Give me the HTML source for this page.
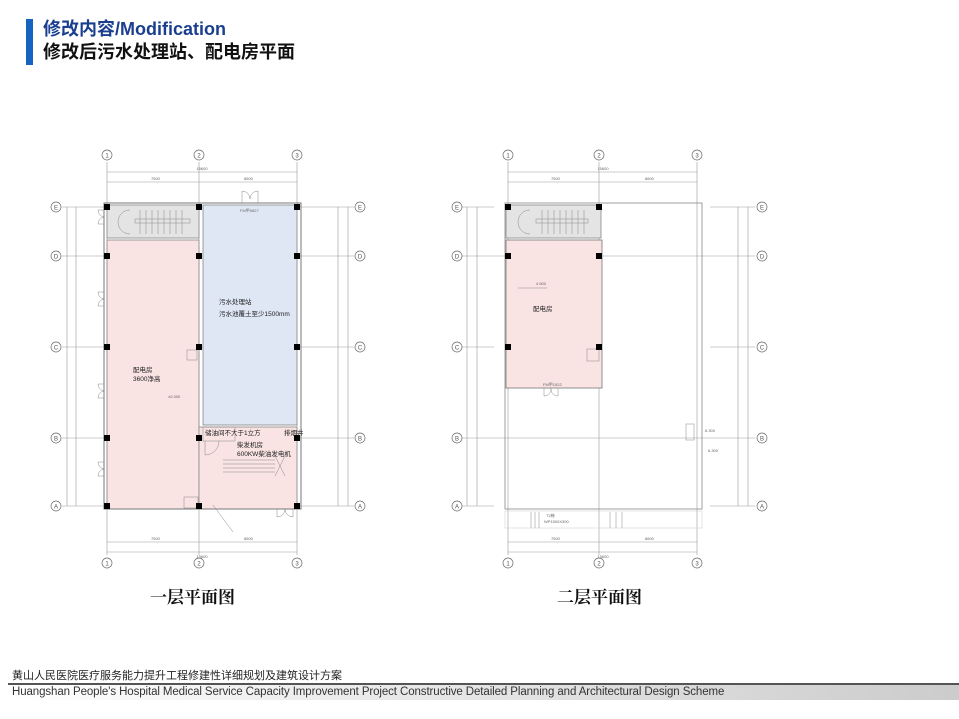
<!DOCTYPE html>
<html><head><meta charset="utf-8"><style>
body{margin:0;width:959px;height:719px;background:#fff;position:relative;overflow:hidden;font-family:"Liberation Sans","Noto Sans CJK SC",sans-serif}
.bar{position:absolute;left:26px;top:19px;width:7px;height:46px;background:#1565c0}
.t1{position:absolute;left:43px;top:18px;font-size:18px;font-weight:bold;color:#1a3f8f;line-height:22px}
.t2{position:absolute;left:43px;top:41px;font-size:18px;font-weight:bold;color:#111;line-height:22px}
.f1{position:absolute;left:12px;top:667px;font-size:11px;color:#222;font-family:"Noto Sans CJK SC",sans-serif}
.fl{position:absolute;left:8px;top:683px;width:951px;height:2px;background:#555}
.fb{position:absolute;left:8px;top:685px;width:951px;height:15px;background:linear-gradient(90deg,#fff 0%,#eee 30%,#ccc 100%)}
.f2{position:absolute;left:12px;top:686px;font-size:11.5px;color:#333;letter-spacing:-0.1px}
svg{position:absolute;left:0;top:0}
</style></head><body>
<div class="bar"></div>
<div class="t1">修改内容/Modification</div>
<div class="t2">修改后污水处理站、配电房平面</div>
<svg width="959" height="719" viewBox="0 0 959 719" font-family="Liberation Sans, Noto Sans CJK SC, sans-serif">
<defs>
<g id="bub"><circle r="5" fill="#fff" stroke="#666" stroke-width="0.7"/></g>
</defs>
<!-- ============ PLAN 1 ============ -->
<g stroke="#999" stroke-width="0.6" fill="none">
<line x1="107" y1="162" x2="107" y2="555"/><line x1="199" y1="162" x2="199" y2="555"/><line x1="297" y1="162" x2="297" y2="555"/>
<line x1="62" y1="207" x2="354" y2="207"/><line x1="62" y1="256" x2="354" y2="256"/><line x1="62" y1="347" x2="354" y2="347"/><line x1="62" y1="438" x2="354" y2="438"/><line x1="62" y1="506" x2="354" y2="506"/>
<line x1="107" y1="172" x2="297" y2="172"/><line x1="107" y1="182" x2="297" y2="182"/>
<line x1="107" y1="542" x2="297" y2="542"/><line x1="107" y1="552" x2="297" y2="552"/>
<line x1="67" y1="207" x2="67" y2="506"/><line x1="76" y1="207" x2="76" y2="506"/>
<line x1="338" y1="207" x2="338" y2="506"/><line x1="348" y1="207" x2="348" y2="506"/>
</g>
<rect x="107" y="205" width="92" height="33" fill="#e4e4e4" stroke="#888" stroke-width="0.8"/>
<rect x="107" y="240" width="92" height="269" fill="#f9e3e3" stroke="#888" stroke-width="0.8"/>
<rect x="203" y="205" width="94" height="220" fill="#dfe7f5" stroke="#888" stroke-width="0.8"/>
<rect x="199" y="427" width="98" height="82" fill="#f9e3e3" stroke="#888" stroke-width="0.8"/>
<rect x="104" y="203" width="197" height="306" fill="none" stroke="#777" stroke-width="1"/>
<g stroke="#888" stroke-width="0.5" fill="none">
<path d="M130 210 a12 12 0 0 0 0 24"/><rect x="135" y="219" width="55" height="4"/>
<line x1="140" y1="210" x2="140" y2="234"/><line x1="146" y1="210" x2="146" y2="234"/><line x1="152" y1="210" x2="152" y2="234"/><line x1="158" y1="210" x2="158" y2="234"/><line x1="164" y1="210" x2="164" y2="234"/><line x1="170" y1="210" x2="170" y2="234"/><line x1="176" y1="210" x2="176" y2="234"/><line x1="182" y1="210" x2="182" y2="234"/>
<path d="M242 203 v-12 a8 8 0 0 1 8 8 M258 203 v-12 a8 8 0 0 0 -8 8"/>
<path d="M104 210 h-6 a7 7 0 0 0 6 7 a7 7 0 0 0 -6 7 h6"/>
<path d="M104 292 h-6 a7 7 0 0 0 6 7 a7 7 0 0 0 -6 7 h6"/>
<path d="M104 384 h-6 a7 7 0 0 0 6 7 a7 7 0 0 0 -6 7 h6"/>
<path d="M104 462 h-6 a7 7 0 0 0 6 7 a7 7 0 0 0 -6 7 h6"/>
<path d="M277 509 v8 a8 8 0 0 0 8 -8 M293 509 v8 a8 8 0 0 1 -8 -8"/>
<rect x="203" y="427" width="32" height="14"/><path d="M205 441 v14 a14 14 0 0 0 14 -14"/>
<line x1="223" y1="460" x2="275" y2="460"/><line x1="223" y1="464" x2="275" y2="464"/><line x1="223" y1="468" x2="275" y2="468"/><line x1="223" y1="472" x2="275" y2="472"/>
<path d="M275 456 l10 20 M285 456 l-10 20"/>
<rect x="187" y="350" width="10" height="10"/><rect x="184" y="497" width="14" height="11"/>
<line x1="213" y1="505" x2="233" y2="532"/>
</g>
<g fill="#000">
<rect x="104" y="204" width="6" height="6"/><rect x="196" y="204" width="6" height="6"/><rect x="294" y="204" width="6" height="6"/>
<rect x="104" y="253" width="6" height="6"/><rect x="196" y="253" width="6" height="6"/><rect x="294" y="253" width="6" height="6"/>
<rect x="104" y="344" width="6" height="6"/><rect x="196" y="344" width="6" height="6"/><rect x="294" y="344" width="6" height="6"/>
<rect x="104" y="435" width="6" height="6"/><rect x="196" y="435" width="6" height="6"/><rect x="294" y="435" width="6" height="6"/>
<rect x="104" y="503" width="6" height="6"/><rect x="196" y="503" width="6" height="6"/><rect x="294" y="503" width="6" height="6"/>
</g>
<g font-size="6.5" fill="#222">
<text x="219" y="304">污水处理站</text><text x="219" y="316">污水池覆土至少1500mm</text>
<text x="133" y="372">配电房</text><text x="133" y="381">3600净高</text>
<text x="205" y="435">储油间不大于1立方</text><text x="284" y="435">排烟井</text>
<text x="237" y="447">柴发机房</text><text x="237" y="456">600KW柴油发电机</text>
</g>
<g font-size="4" fill="#666">
<text x="202" y="170" text-anchor="middle">15600</text><text x="151" y="180">7500</text><text x="244" y="180">8600</text>
<text x="151" y="540">7500</text><text x="244" y="540">8600</text><text x="202" y="558" text-anchor="middle">15600</text>
<text x="240" y="212">FM甲0827</text><text x="168" y="398">±0.300</text>
</g>
<g font-size="6" fill="#555" text-anchor="middle">
<use href="#bub" x="107" y="155"/><text x="107" y="157.5">1</text>
<use href="#bub" x="199" y="155"/><text x="199" y="157.5">2</text>
<use href="#bub" x="297" y="155"/><text x="297" y="157.5">3</text>
<use href="#bub" x="107" y="563"/><text x="107" y="565.5">1</text>
<use href="#bub" x="199" y="563"/><text x="199" y="565.5">2</text>
<use href="#bub" x="297" y="563"/><text x="297" y="565.5">3</text>
<use href="#bub" x="56" y="207"/><text x="56" y="209.5">E</text>
<use href="#bub" x="56" y="256"/><text x="56" y="258.5">D</text>
<use href="#bub" x="56" y="347"/><text x="56" y="349.5">C</text>
<use href="#bub" x="56" y="438"/><text x="56" y="440.5">B</text>
<use href="#bub" x="56" y="506"/><text x="56" y="508.5">A</text>
<use href="#bub" x="360" y="207"/><text x="360" y="209.5">E</text>
<use href="#bub" x="360" y="256"/><text x="360" y="258.5">D</text>
<use href="#bub" x="360" y="347"/><text x="360" y="349.5">C</text>
<use href="#bub" x="360" y="438"/><text x="360" y="440.5">B</text>
<use href="#bub" x="360" y="506"/><text x="360" y="508.5">A</text>
</g>
<!-- ============ PLAN 2 ============ -->
<g stroke="#999" stroke-width="0.6" fill="none">
<line x1="508" y1="162" x2="508" y2="555"/><line x1="599" y1="162" x2="599" y2="555"/><line x1="697" y1="162" x2="697" y2="555"/>
<line x1="462" y1="207" x2="494" y2="207"/><line x1="462" y1="256" x2="755" y2="256"/><line x1="462" y1="347" x2="494" y2="347"/><line x1="462" y1="438" x2="755" y2="438"/><line x1="462" y1="506" x2="494" y2="506"/>
<line x1="710" y1="207" x2="755" y2="207"/><line x1="710" y1="347" x2="755" y2="347"/><line x1="710" y1="506" x2="755" y2="506"/>
<line x1="508" y1="172" x2="697" y2="172"/><line x1="508" y1="182" x2="697" y2="182"/>
<line x1="508" y1="542" x2="697" y2="542"/><line x1="508" y1="552" x2="697" y2="552"/>
<line x1="467" y1="207" x2="467" y2="506"/><line x1="477" y1="207" x2="477" y2="506"/>
<line x1="738" y1="207" x2="738" y2="506"/><line x1="748" y1="207" x2="748" y2="506"/>
</g>
<rect x="505" y="203" width="197" height="306" fill="none" stroke="#888" stroke-width="0.8"/>
<rect x="505" y="511" width="197" height="17" fill="none" stroke="#ccc" stroke-width="0.5"/>
<rect x="506" y="205" width="95" height="33" fill="#e4e4e4" stroke="#888" stroke-width="0.8"/>
<rect x="506" y="240" width="96" height="148" fill="#f9e3e3" stroke="#777" stroke-width="0.8"/>
<g stroke="#888" stroke-width="0.5" fill="none">
<path d="M530 210 a12 12 0 0 0 0 24"/><rect x="536" y="219" width="52" height="4"/>
<line x1="542" y1="210" x2="542" y2="234"/><line x1="548" y1="210" x2="548" y2="234"/><line x1="554" y1="210" x2="554" y2="234"/><line x1="560" y1="210" x2="560" y2="234"/><line x1="566" y1="210" x2="566" y2="234"/><line x1="572" y1="210" x2="572" y2="234"/><line x1="578" y1="210" x2="578" y2="234"/><line x1="584" y1="210" x2="584" y2="234"/>
<rect x="587" y="349" width="12" height="12"/>
<path d="M544 388 v8 a7 7 0 0 0 7 -8 M558 388 v8 a7 7 0 0 1 -7 -8"/>
<rect x="686" y="424" width="8" height="16"/>
<line x1="531" y1="512" x2="531" y2="528"/><line x1="535" y1="512" x2="535" y2="528"/><line x1="539" y1="512" x2="539" y2="528"/><line x1="610" y1="512" x2="610" y2="528"/><line x1="616" y1="512" x2="616" y2="528"/><line x1="622" y1="512" x2="622" y2="528"/>
<line x1="518" y1="288" x2="547" y2="288"/>
</g>
<g fill="#000">
<rect x="505" y="204" width="6" height="6"/><rect x="596" y="204" width="6" height="6"/>
<rect x="505" y="253" width="6" height="6"/><rect x="596" y="253" width="6" height="6"/>
<rect x="505" y="344" width="6" height="6"/><rect x="596" y="344" width="6" height="6"/>
</g>
<g font-size="6.5" fill="#222"><text x="533" y="311">配电房</text></g>
<g font-size="4" fill="#666">
<text x="603" y="170" text-anchor="middle">15600</text><text x="551" y="180">7500</text><text x="645" y="180">8600</text>
<text x="551" y="540">7500</text><text x="645" y="540">8600</text><text x="603" y="558" text-anchor="middle">15600</text>
<text x="536" y="285">4.500</text><text x="543" y="386">FM甲1522</text><text x="705" y="432">6.300</text><text x="708" y="452">6.300</text>
<text x="546" y="517">T2梯</text><text x="544" y="523">WP1500X300</text>
</g>
<g font-size="6" fill="#555" text-anchor="middle">
<use href="#bub" x="508" y="155"/><text x="508" y="157.5">1</text>
<use href="#bub" x="599" y="155"/><text x="599" y="157.5">2</text>
<use href="#bub" x="697" y="155"/><text x="697" y="157.5">3</text>
<use href="#bub" x="508" y="563"/><text x="508" y="565.5">1</text>
<use href="#bub" x="599" y="563"/><text x="599" y="565.5">2</text>
<use href="#bub" x="697" y="563"/><text x="697" y="565.5">3</text>
<use href="#bub" x="457" y="207"/><text x="457" y="209.5">E</text>
<use href="#bub" x="457" y="256"/><text x="457" y="258.5">D</text>
<use href="#bub" x="457" y="347"/><text x="457" y="349.5">C</text>
<use href="#bub" x="457" y="438"/><text x="457" y="440.5">B</text>
<use href="#bub" x="457" y="506"/><text x="457" y="508.5">A</text>
<use href="#bub" x="762" y="207"/><text x="762" y="209.5">E</text>
<use href="#bub" x="762" y="256"/><text x="762" y="258.5">D</text>
<use href="#bub" x="762" y="347"/><text x="762" y="349.5">C</text>
<use href="#bub" x="762" y="438"/><text x="762" y="440.5">B</text>
<use href="#bub" x="762" y="506"/><text x="762" y="508.5">A</text>
</g>
<g font-size="17" font-weight="bold" fill="#111" font-family="Noto Serif CJK SC, serif">
<text x="150" y="603">一层平面图</text><text x="557" y="603">二层平面图</text>
</g>
</svg>
<div class="fl"></div><div class="fb"></div>
<div class="f1">黄山人民医院医疗服务能力提升工程修建性详细规划及建筑设计方案</div>
<div class="f2">Huangshan People's Hospital Medical Service Capacity Improvement Project Constructive Detailed Planning and Architectural Design Scheme</div>
</body></html>
